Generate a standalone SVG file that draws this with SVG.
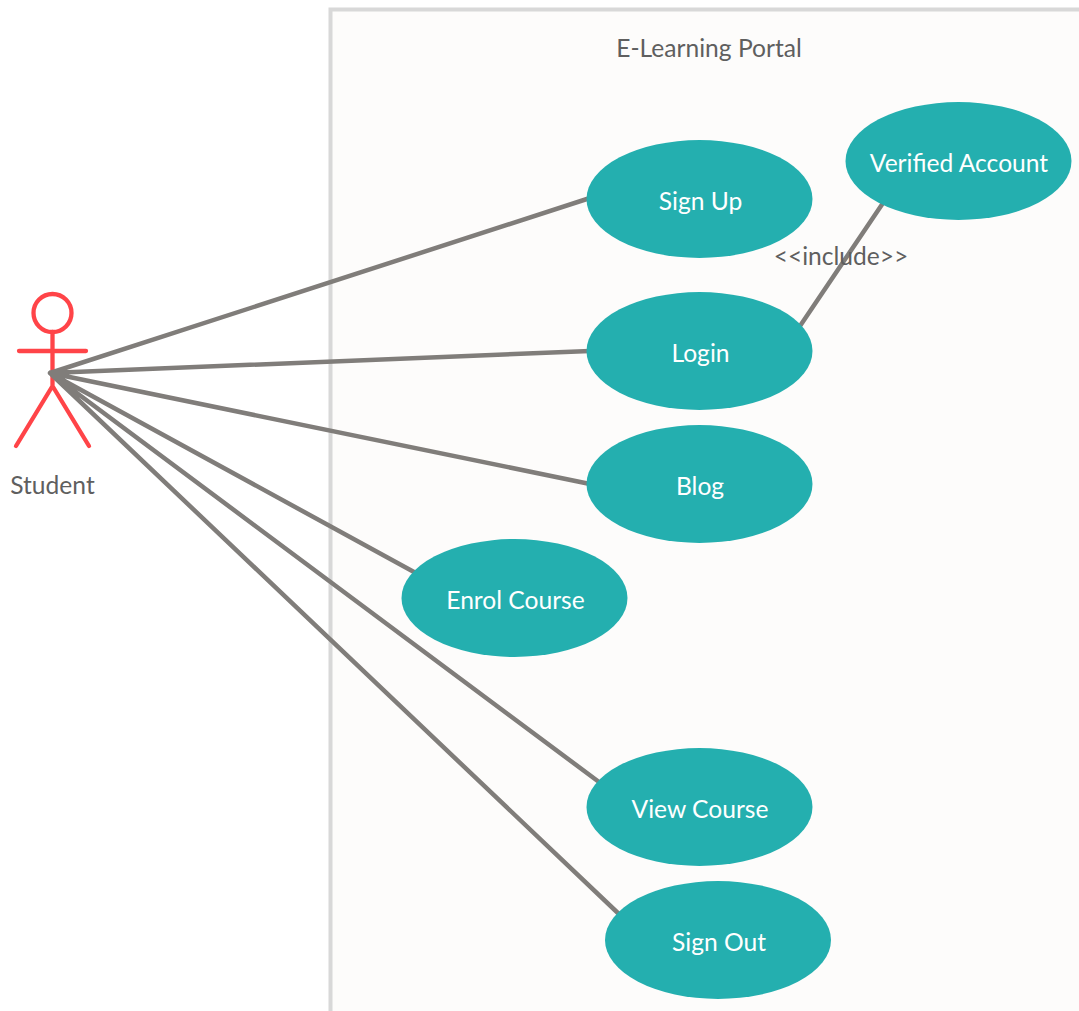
<svg xmlns="http://www.w3.org/2000/svg" width="1079" height="1011" viewBox="0 0 1079 1011">
<style>
.uc{fill:#24afaf}
.ut{font-family:Lato,"Open Sans",sans-serif;font-size:24.6px;fill:#fff;text-anchor:middle}
.lt{font-family:Lato,"Open Sans",sans-serif;font-size:24.6px;fill:#5f5f5f;text-anchor:middle}
.c{stroke:#807d7a;stroke-width:4.500;stroke-linecap:round;fill:none}
.a{stroke:#ff4448;stroke-width:4.300;stroke-linecap:round;fill:none}
</style>
<rect width="1079" height="1011" fill="#fff"/>
<g id="boundary">
<rect x="330.500" y="9.500" width="760" height="1020" fill="#fdfcfb" stroke="#d8d8d8" stroke-width="4"/>
<text class="lt" x="709" y="56.500">E-Learning Portal</text>
</g>
<g id="actor-student">
<circle cx="52.500" cy="313" r="19" class="a"/>
<path class="a" d="M52.500 332V386M19 351H86M52.500 386L16 446M52.500 386L89 446"/>
<text class="lt" x="52.500" y="493.500">Student</text>
</g>
<g id="connectors">
<path class="c" d="M50 373L590 198M50 373L590 351M50 373L590 484M50 373L414 572M50 373L599 782M50 373L620 915M800 326L883 203"/>
</g>
<g id="uc-signup"><ellipse class="uc" cx="699.500" cy="199" rx="113" ry="59"/><text class="ut" x="700.500" y="210">Sign Up</text></g>
<g id="uc-login"><ellipse class="uc" cx="699.500" cy="351" rx="113" ry="59"/><text class="ut" x="700.500" y="362">Login</text></g>
<g id="uc-blog"><ellipse class="uc" cx="699.500" cy="484" rx="113" ry="59"/><text class="ut" x="700" y="495">Blog</text></g>
<g id="uc-enrol"><ellipse class="uc" cx="514.500" cy="598" rx="113" ry="59"/><text class="ut" x="515.500" y="609">Enrol Course</text></g>
<g id="uc-view"><ellipse class="uc" cx="699.500" cy="807" rx="113" ry="59"/><text class="ut" x="700" y="818">View Course</text></g>
<g id="uc-signout"><ellipse class="uc" cx="718" cy="940" rx="113" ry="59"/><text class="ut" x="719" y="951">Sign Out</text></g>
<g id="uc-verified"><ellipse class="uc" cx="958.500" cy="161" rx="113" ry="59"/><text class="ut" x="959" y="172">Verified Account</text></g>
<g id="label-include"><text class="lt" x="841" y="265">&lt;&lt;include&gt;&gt;</text></g>
</svg>
